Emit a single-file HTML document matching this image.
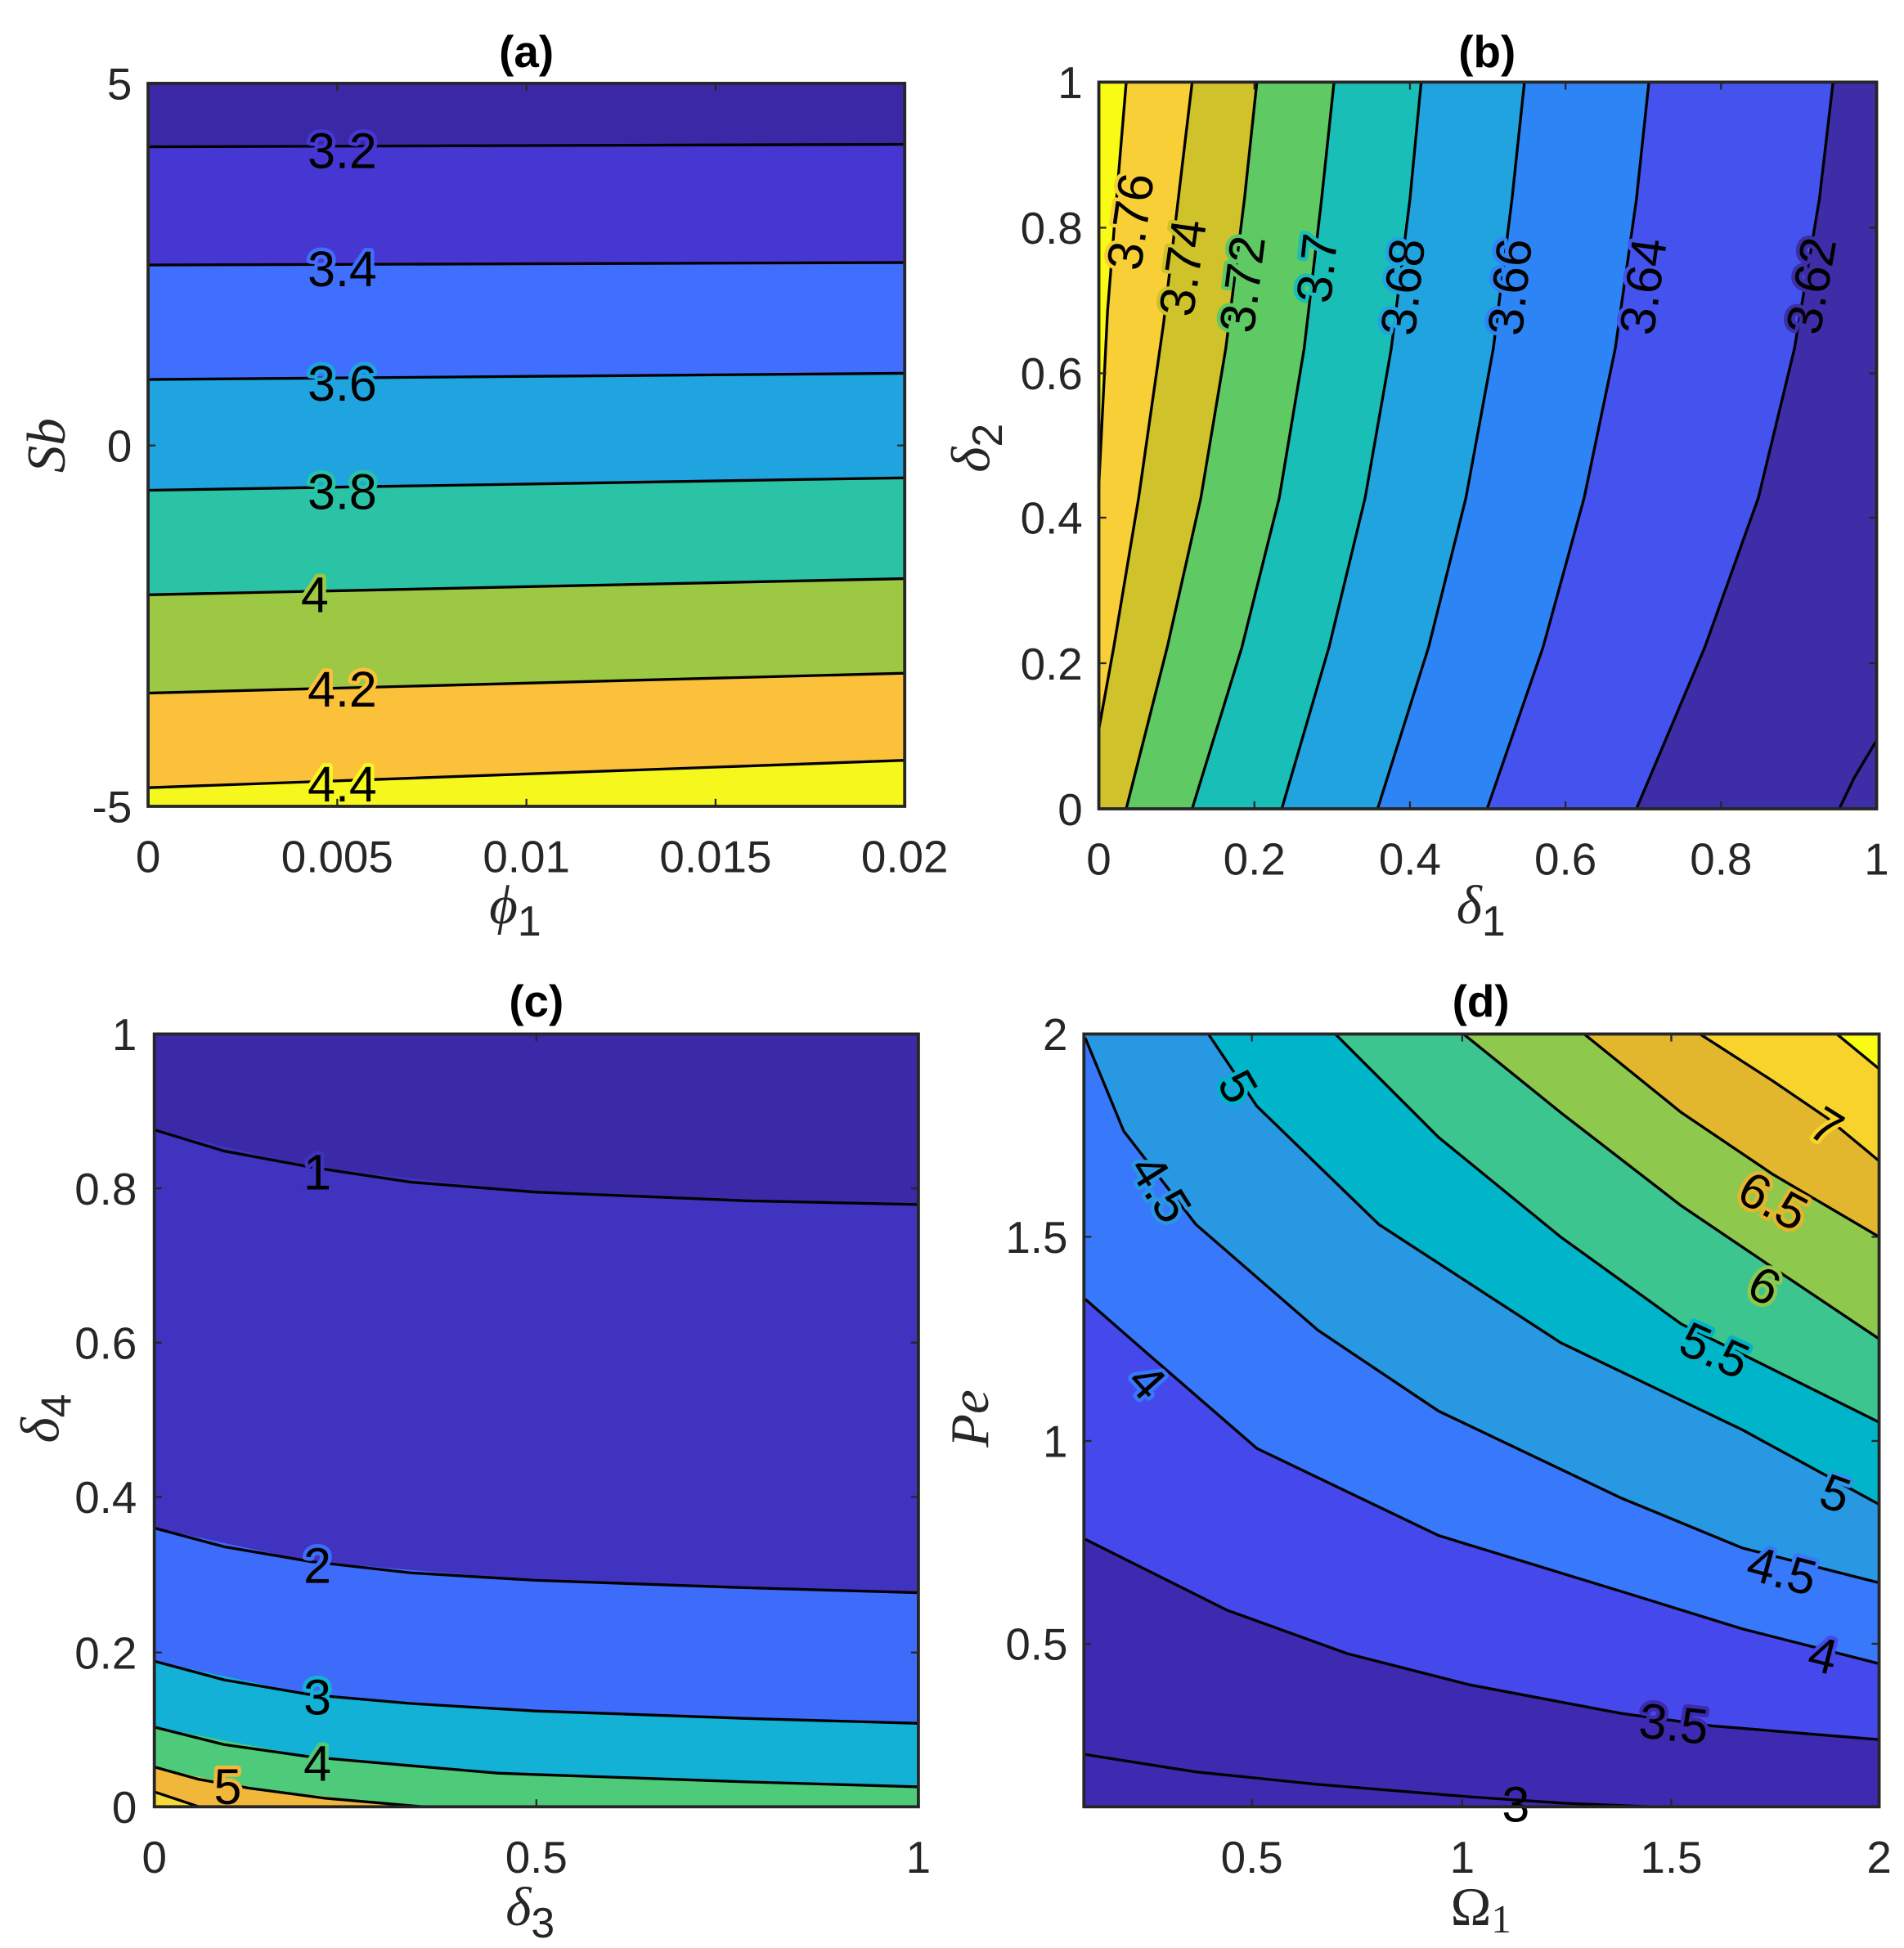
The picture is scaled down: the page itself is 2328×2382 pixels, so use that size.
<!DOCTYPE html>
<html><head><meta charset="utf-8"><style>
html,body{margin:0;padding:0;background:#fff;}
svg{display:block;}
.t{font-family:"Liberation Sans",sans-serif;font-size:36px;fill:#262626;}
.cl{font-family:"Liberation Sans",sans-serif;font-size:40px;fill:#000;paint-order:stroke;stroke-width:6px;stroke-linejoin:round;}
.ti{font-family:"Liberation Sans",sans-serif;font-size:36px;font-weight:bold;fill:#000;text-anchor:middle;}
.ax{font-family:"Liberation Serif",serif;font-style:italic;font-size:44px;fill:#262626;text-anchor:middle;}
.ln{fill:none;stroke:#000;stroke-width:2.2;stroke-linejoin:round;}
.box{fill:none;stroke:#262626;stroke-width:2.5;}
.tk{stroke:#262626;stroke-width:1.5;}
</style></head><body>
<svg width="2328" height="2382" viewBox="0 0 1530 1565.5" xmlns="http://www.w3.org/2000/svg">
<rect width="1530" height="1565.5" fill="#fff"/>

<!-- ===== Panel (a) ===== -->
<g>
<rect x="119" y="67" width="608" height="581" fill="#f6f71c"/>
<polygon points="119,633 727,611 727,67 119,67" fill="#fcc13a"/>
<polygon points="119,557 727,541 727,67 119,67" fill="#9dc843"/>
<polygon points="119,478 727,465 727,67 119,67" fill="#2ac3a5"/>
<polygon points="119,394 727,384 727,67 119,67" fill="#1fa4e0"/>
<polygon points="119,305 727,300 727,67 119,67" fill="#3f6ffc"/>
<polygon points="119,213 727,211 727,67 119,67" fill="#4636d2"/>
<polygon points="119,118 727,116 727,67 119,67" fill="#3b28a6"/>
<polyline class="ln" points="119,118 727,116"/>
<polyline class="ln" points="119,213 727,211"/>
<polyline class="ln" points="119,305 727,300"/>
<polyline class="ln" points="119,394 727,384"/>
<polyline class="ln" points="119,478 727,465"/>
<polyline class="ln" points="119,557 727,541"/>
<polyline class="ln" points="119,633 727,611"/>
<text class="cl" x="275" y="135" text-anchor="middle" stroke="#4636d2">3.2</text>
<text class="cl" x="275" y="230" text-anchor="middle" stroke="#3f6ffc">3.4</text>
<text class="cl" x="275" y="322" text-anchor="middle" stroke="#1fa4e0">3.6</text>
<text class="cl" x="275" y="409" text-anchor="middle" stroke="#2ac3a5">3.8</text>
<text class="cl" x="253" y="492" text-anchor="middle" stroke="#9dc843">4</text>
<text class="cl" x="275" y="568" text-anchor="middle" stroke="#fcc13a">4.2</text>
<text class="cl" x="275" y="644" text-anchor="middle" stroke="#f6f71c">4.4</text>
<rect class="box" x="119" y="67" width="608" height="581"/>
<g class="tk">
<line x1="271" y1="648" x2="271" y2="642"/><line x1="423" y1="648" x2="423" y2="642"/><line x1="575" y1="648" x2="575" y2="642"/>
<line x1="271" y1="67" x2="271" y2="73"/><line x1="423" y1="67" x2="423" y2="73"/><line x1="575" y1="67" x2="575" y2="73"/>
<line x1="119" y1="358" x2="125" y2="358"/><line x1="727" y1="358" x2="721" y2="358"/>
</g>
<g class="t" text-anchor="middle">
<text x="119" y="701">0</text><text x="271" y="701">0.005</text><text x="423" y="701">0.01</text><text x="575" y="701">0.015</text><text x="727" y="701">0.02</text>
</g>
<g class="t" text-anchor="end">
<text x="106" y="80">5</text><text x="106" y="371">0</text><text x="106" y="661">-5</text>
</g>
<text class="ti" x="423" y="54">(a)</text>
<text class="ax" x="414" y="742">ϕ<tspan style="font-style:normal;font-family:'Liberation Sans',sans-serif;font-size:34px" dy="10">1</tspan></text>
<text class="ax" transform="translate(52,358) rotate(-90)">Sb</text>
</g>

<!-- ===== Panel (b) ===== -->
<g>
<rect x="883" y="66" width="625" height="584" fill="#3d2da6"/>
<polygon points="1473,66 1462,160 1442,280 1413,400 1370,520 1315,650 883,650 883,66" fill="#4452ee"/>
<polygon points="1325,66 1315,160 1298,280 1273,400 1240,520 1195,650 883,650 883,66" fill="#2d84f5"/>
<polygon points="1225,66 1215,160 1200,280 1178,400 1148,520 1107,650 883,650 883,66" fill="#21a3df"/>
<polygon points="1142,66 1133,160 1118,280 1097,400 1068,520 1030,650 883,650 883,66" fill="#19bfb7"/>
<polygon points="1072,66 1062,160 1048,280 1028,400 998,520 958,650 883,650 883,66" fill="#5fc963"/>
<polygon points="1010,66 1000,160 985,280 965,400 938,520 905,650 883,650 883,66" fill="#d0c22a"/>
<polygon points="958,66 948,150 935,260 915,400 895,520 883,586 883,66" fill="#f8cf37"/>
<polygon points="905,66 898,150 890,250 883,390 883,66" fill="#f9fb15"/>
<polyline class="ln" points="905,66 898,150 890,250 883,390"/>
<polyline class="ln" points="958,66 948,150 935,260 915,400 895,520 883,586"/>
<polyline class="ln" points="1010,66 1000,160 985,280 965,400 938,520 905,650"/>
<polyline class="ln" points="1072,66 1062,160 1048,280 1028,400 998,520 958,650"/>
<polyline class="ln" points="1142,66 1133,160 1118,280 1097,400 1068,520 1030,650"/>
<polyline class="ln" points="1225,66 1215,160 1200,280 1178,400 1148,520 1107,650"/>
<polyline class="ln" points="1325,66 1315,160 1298,280 1273,400 1240,520 1195,650"/>
<polyline class="ln" points="1473,66 1462,160 1442,280 1413,400 1370,520 1315,650"/>
<polyline class="ln" points="1508,595 1490,625 1478,650"/>
<text class="cl" transform="translate(922,180) rotate(-82)" text-anchor="middle" stroke="#f8cf37">3.76</text>
<text class="cl" transform="translate(964,217) rotate(-82)" text-anchor="middle" stroke="#d0c22a">3.74</text>
<text class="cl" transform="translate(1012,230) rotate(-83)" text-anchor="middle" stroke="#5fc963">3.72</text>
<text class="cl" transform="translate(1072,217) rotate(-84)" text-anchor="middle" stroke="#19bfb7">3.7</text>
<text class="cl" transform="translate(1141,232) rotate(-84)" text-anchor="middle" stroke="#21a3df">3.68</text>
<text class="cl" transform="translate(1227,232) rotate(-84)" text-anchor="middle" stroke="#2d84f5">3.66</text>
<text class="cl" transform="translate(1334,232) rotate(-82)" text-anchor="middle" stroke="#4452ee">3.64</text>
<text class="cl" transform="translate(1469,232) rotate(-80)" text-anchor="middle" stroke="#3d2da6">3.62</text>
<rect class="box" x="883" y="66" width="625" height="584"/>
<g class="tk">
<line x1="1008" y1="650" x2="1008" y2="644"/><line x1="1133" y1="650" x2="1133" y2="644"/><line x1="1258" y1="650" x2="1258" y2="644"/><line x1="1383" y1="650" x2="1383" y2="644"/>
<line x1="1008" y1="66" x2="1008" y2="72"/><line x1="1133" y1="66" x2="1133" y2="72"/><line x1="1258" y1="66" x2="1258" y2="72"/><line x1="1383" y1="66" x2="1383" y2="72"/>
<line x1="883" y1="533" x2="889" y2="533"/><line x1="883" y1="416" x2="889" y2="416"/><line x1="883" y1="300" x2="889" y2="300"/><line x1="883" y1="183" x2="889" y2="183"/>
<line x1="1508" y1="533" x2="1502" y2="533"/><line x1="1508" y1="416" x2="1502" y2="416"/><line x1="1508" y1="300" x2="1502" y2="300"/><line x1="1508" y1="183" x2="1502" y2="183"/>
</g>
<g class="t" text-anchor="middle">
<text x="883" y="703">0</text><text x="1008" y="703">0.2</text><text x="1133" y="703">0.4</text><text x="1258" y="703">0.6</text><text x="1383" y="703">0.8</text><text x="1508" y="703">1</text>
</g>
<g class="t" text-anchor="end">
<text x="870" y="663">0</text><text x="870" y="546">0.2</text><text x="870" y="429">0.4</text><text x="870" y="313">0.6</text><text x="870" y="196">0.8</text><text x="870" y="79">1</text>
</g>
<text class="ti" x="1195" y="54">(b)</text>
<text class="ax" x="1190" y="742">δ<tspan style="font-style:normal;font-family:'Liberation Sans',sans-serif;font-size:34px" dy="10">1</tspan></text>
<text class="ax" transform="translate(795,360) rotate(-90)">δ<tspan style="font-style:normal;font-family:'Liberation Sans',sans-serif;font-size:34px" dy="10">2</tspan></text>
</g>

<!-- ===== Panel (c) ===== -->
<g>
<rect x="124" y="831" width="614" height="621" fill="#f0b73a"/>
<polygon points="124,1420 200,1437 340,1452 738,1452 738,831 124,831" fill="#4ecb7a"/>
<polygon points="124,1388 250,1412 400,1425 738,1436 738,831 124,831" fill="#12b1d5"/>
<polygon points="124,1335 250,1362 430,1375 738,1385 738,831 124,831" fill="#3d6cfb"/>
<polygon points="124,1228 250,1255 430,1270 738,1280 738,831 124,831" fill="#3f33bf"/>
<polygon points="124,908 250,938 430,958 738,968 738,831 124,831" fill="#3a2aa8"/>
<polygon points="124,1440 124,1452 160,1452" fill="#f6d93a"/>
<polyline class="ln" points="124,908 180,925 250,938 330,950 430,958 600,965 738,968"/>
<polyline class="ln" points="124,1228 180,1243 250,1255 330,1264 430,1270 600,1276 738,1280"/>
<polyline class="ln" points="124,1335 180,1350 250,1362 330,1369 430,1375 600,1381 738,1385"/>
<polyline class="ln" points="124,1388 180,1402 250,1412 330,1419 400,1425 600,1432 738,1436"/>
<polyline class="ln" points="124,1420 160,1430 200,1437 260,1445 340,1452"/>
<polyline class="ln" points="124,1440 160,1452"/>
<text class="cl" x="255" y="956" text-anchor="middle" stroke="#3f33bf">1</text>
<text class="cl" x="255" y="1272" text-anchor="middle" stroke="#3d6cfb">2</text>
<text class="cl" x="255" y="1378" text-anchor="middle" stroke="#12b1d5">3</text>
<text class="cl" x="255" y="1431" text-anchor="middle" stroke="#4ecb7a">4</text>
<text class="cl" x="183" y="1450" text-anchor="middle" stroke="#f0b73a">5</text>
<rect class="box" x="124" y="831" width="614" height="621"/>
<g class="tk">
<line x1="431" y1="1452" x2="431" y2="1446"/><line x1="431" y1="831" x2="431" y2="837"/>
<line x1="124" y1="1328" x2="130" y2="1328"/><line x1="124" y1="1203" x2="130" y2="1203"/><line x1="124" y1="1079" x2="130" y2="1079"/><line x1="124" y1="955" x2="130" y2="955"/>
<line x1="738" y1="1328" x2="732" y2="1328"/><line x1="738" y1="1203" x2="732" y2="1203"/><line x1="738" y1="1079" x2="732" y2="1079"/><line x1="738" y1="955" x2="732" y2="955"/>
</g>
<g class="t" text-anchor="middle">
<text x="124" y="1505">0</text><text x="431" y="1505">0.5</text><text x="738" y="1505">1</text>
</g>
<g class="t" text-anchor="end">
<text x="110" y="1465">0</text><text x="110" y="1341">0.2</text><text x="110" y="1216">0.4</text><text x="110" y="1092">0.6</text><text x="110" y="968">0.8</text><text x="110" y="844">1</text>
</g>
<text class="ti" x="431" y="817">(c)</text>
<text class="ax" x="426" y="1547">δ<tspan style="font-style:normal;font-family:'Liberation Sans',sans-serif;font-size:34px" dy="10">3</tspan></text>
<text class="ax" transform="translate(47,1140) rotate(-90)">δ<tspan style="font-style:normal;font-family:'Liberation Sans',sans-serif;font-size:34px" dy="10">4</tspan></text>
</g>

<!-- ===== Panel (d) ===== -->
<g>
<rect x="871" y="831" width="639" height="621" fill="#3d2ab0"/>
<polygon points="872,1237 912,1257 986,1294 1083,1329 1181,1354 1303,1377 1376,1387 1510,1398 1510,831 871,831" fill="#4549ec"/>
<polygon points="872,1044 912,1079 1010,1164 1156,1234 1303,1279 1400,1309 1510,1337 1510,831 871,831" fill="#3878fb"/>
<polygon points="872,834 903,909 961,984 1059,1069 1156,1134 1303,1204 1400,1244 1510,1272 1510,831 871,831" fill="#2898e3"/>
<polygon points="971,831 1010,889 1108,984 1254,1079 1400,1149 1510,1209 1510,831" fill="#00b5c9"/>
<polygon points="1073,831 1156,914 1254,994 1351,1064 1510,1143 1510,831" fill="#3cc58f"/>
<polygon points="1176,831 1254,894 1351,969 1425,1019 1510,1076 1510,831" fill="#8ec84c"/>
<polygon points="1273,831 1351,894 1425,944 1510,994 1510,831" fill="#e2b72e"/>
<polygon points="1366,831 1425,869 1469,899 1510,933 1510,831" fill="#f8d32c"/>
<polygon points="1476,831 1510,859 1510,831" fill="#f9fb14"/>
<polyline class="ln" points="872,1410 961,1424 1059,1434 1181,1444 1254,1449 1327,1452"/>
<polyline class="ln" points="872,1237 912,1257 986,1294 1083,1329 1181,1354 1303,1377 1376,1387 1510,1398"/>
<polyline class="ln" points="872,1044 912,1079 1010,1164 1156,1234 1303,1279 1400,1309 1510,1337"/>
<polyline class="ln" points="872,834 903,909 961,984 1059,1069 1156,1134 1303,1204 1400,1244 1510,1272"/>
<polyline class="ln" points="971,831 1010,889 1108,984 1254,1079 1400,1149 1510,1209"/>
<polyline class="ln" points="1073,831 1156,914 1254,994 1351,1064 1510,1143"/>
<polyline class="ln" points="1176,831 1254,894 1351,969 1425,1019 1510,1076"/>
<polyline class="ln" points="1273,831 1351,894 1425,944 1510,994"/>
<polyline class="ln" points="1366,831 1425,869 1469,899 1510,933"/>
<polyline class="ln" points="1476,831 1510,859"/>
<text class="cl" transform="translate(995,873) rotate(60)" text-anchor="middle" dy="14" stroke="#00b5c9">5</text>
<text class="cl" transform="translate(933,955) rotate(58)" text-anchor="middle" dy="14" stroke="#2898e3">4.5</text>
<text class="cl" transform="translate(922,1110) rotate(48)" text-anchor="middle" dy="14" stroke="#3878fb">4</text>
<text class="cl" transform="translate(1468,905) rotate(32)" text-anchor="middle" dy="14" stroke="#f8d32c">7</text>
<text class="cl" transform="translate(1425,965) rotate(28)" text-anchor="middle" dy="14" stroke="#e2b72e">6.5</text>
<text class="cl" transform="translate(1418,1033) rotate(27)" text-anchor="middle" dy="14" stroke="#8ec84c">6</text>
<text class="cl" transform="translate(1378,1085) rotate(24)" text-anchor="middle" dy="14" stroke="#00b5c9">5.5</text>
<text class="cl" transform="translate(1475,1200) rotate(20)" text-anchor="middle" dy="14" stroke="#2898e3">5</text>
<text class="cl" transform="translate(1432,1262) rotate(15)" text-anchor="middle" dy="14" stroke="#3878fb">4.5</text>
<text class="cl" transform="translate(1465,1330) rotate(14)" text-anchor="middle" dy="14" stroke="#4549ec">4</text>
<text class="cl" transform="translate(1345,1385) rotate(6)" text-anchor="middle" dy="14" stroke="#3d2ab0">3.5</text>
<text class="cl" x="1218" y="1464" text-anchor="middle" stroke="none">3</text>
<rect class="box" x="871" y="831" width="639" height="621"/>
<g class="tk">
<line x1="1006" y1="1452" x2="1006" y2="1446"/><line x1="1175" y1="1452" x2="1175" y2="1446"/><line x1="1343" y1="1452" x2="1343" y2="1446"/>
<line x1="1006" y1="831" x2="1006" y2="837"/><line x1="1175" y1="831" x2="1175" y2="837"/><line x1="1343" y1="831" x2="1343" y2="837"/>
<line x1="871" y1="1321" x2="877" y2="1321"/><line x1="871" y1="1158" x2="877" y2="1158"/><line x1="871" y1="994" x2="877" y2="994"/>
<line x1="1510" y1="1321" x2="1504" y2="1321"/><line x1="1510" y1="1158" x2="1504" y2="1158"/><line x1="1510" y1="994" x2="1504" y2="994"/>
</g>
<g class="t" text-anchor="middle">
<text x="1006" y="1505">0.5</text><text x="1175" y="1505">1</text><text x="1343" y="1505">1.5</text><text x="1510" y="1505">2</text>
</g>
<g class="t" text-anchor="end">
<text x="858" y="1334">0.5</text><text x="858" y="1171">1</text><text x="858" y="1007">1.5</text><text x="858" y="844">2</text>
</g>
<text class="ti" x="1190" y="817">(d)</text>
<text class="ax" x="1190" y="1547" style="font-style:normal">Ω<tspan style="font-size:32px" dy="6">1</tspan></text>
<text class="ax" transform="translate(794,1140) rotate(-90)">Pe</text>
</g>
</svg>
</body></html>
